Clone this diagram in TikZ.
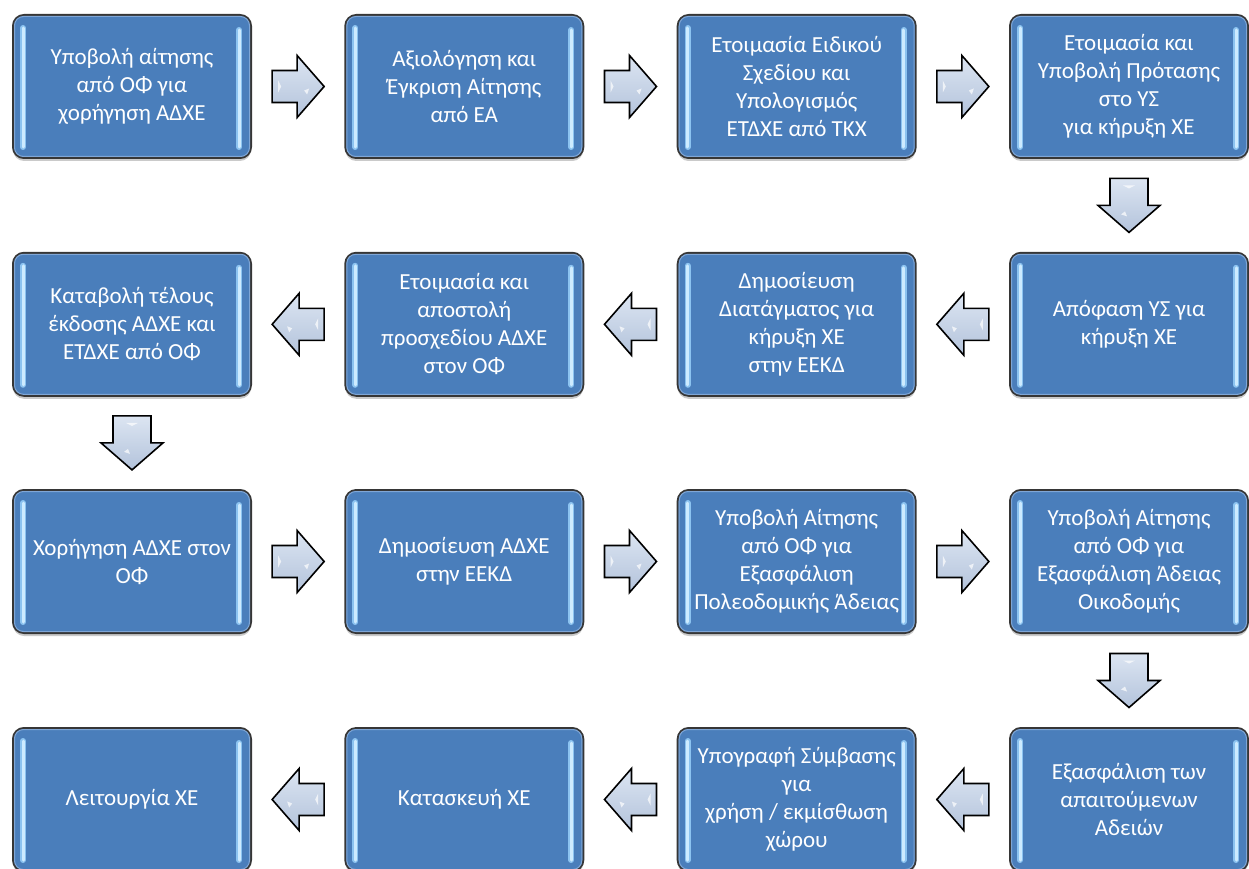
\documentclass[tikz,border=0pt]{standalone}
\usepackage{fontspec}
\setmainfont{Carlito}
\usetikzlibrary{calc,shadows}
\definecolor{boxblue}{HTML}{4A7EBB}
\definecolor{boxborder}{HTML}{363636}
\definecolor{boxinner}{HTML}{7FA6D6}
\definecolor{barcol}{HTML}{CDEBFF}
\definecolor{barglow}{HTML}{8CC3F0}
\definecolor{arrtop}{HTML}{DCE5F2}
\definecolor{arrbot}{HTML}{B3C3DB}
\tikzset{
  box/.style={rounded corners=11pt, minimum width=238pt, minimum height=143pt,
    fill=boxblue, draw=boxborder, line width=2pt, text=white, align=center,
    font=\fontsize{23}{28}\selectfont, inner sep=4pt,
    drop shadow={shadow xshift=0pt, shadow yshift=-3pt, opacity=0.35, fill=black!60}},
  inner/.style={draw=boxinner, line width=1pt, rounded corners=9pt},
  hglow/.style={draw=barglow, line width=6pt, line cap=round},
  hbar/.style={draw=barcol, line width=3pt, line cap=round},
  arw/.style={draw=black, line width=1.6pt, line join=miter, top color=arrtop, bottom color=arrbot},
  rarrow/.pic={\path[arw] (-26,-16) -- (-1,-16) -- (-1,-31) -- (26,0) -- (-1,31) -- (-1,16) -- (-26,16) -- cycle;
     \fill[white, opacity=0.7] (-20,-6) -- (-17,0) -- (-20,6) -- cycle;
     \fill[white, opacity=0.7] (6,4) -- (11,2) -- (9,8) -- cycle;},
  larrow/.pic={\path[arw] (26,-16) -- (1,-16) -- (1,-31) -- (-26,0) -- (1,31) -- (1,16) -- (26,16) -- cycle;
     \fill[white, opacity=0.7] (20,-6) -- (17,0) -- (20,6) -- cycle;
     \fill[white, opacity=0.7] (-6,4) -- (-11,2) -- (-9,8) -- cycle;},
  darrow/.pic={\path[arw] (-19,-27) -- (19,-27) -- (19,0) -- (31,0) -- (0,27) -- (-31,0) -- (-19,0) -- cycle;
     \fill[white, opacity=0.7] (-6,-20) -- (6,-20) -- (0,-17) -- cycle;
     \fill[white, opacity=0.7] (-4,6) -- (-2,11) -- (-8,9) -- cycle;}
}
\begin{document}
\begin{tikzpicture}[x=1pt,y=-1pt]
\useasboundingbox (0,0) rectangle (1249,869);
% row 1
\node[box] (a1) at (132,86.5) {Υποβολή αίτησης\\από ΟΦ για\\χορήγηση ΑΔΧΕ};
\node[box] (a2) at (464.3,86.5) {Αξιολόγηση και\\Έγκριση Αίτησης\\από ΕΑ};
\node[box] (a3) at (796.7,86.5) {Ετοιμασία Ειδικού\\Σχεδίου και\\Υπολογισμός\\ΕΤΔΧΕ από ΤΚΧ};
\node[box] (a4) at (1129,86.5) {Ετοιμασία και\\Υποβολή Πρότασης\\στο ΥΣ\\για κήρυξη ΧΕ};
% row 2
\node[box] (b4) at (1129,324.3) {Απόφαση ΥΣ για\\κήρυξη ΧΕ};
\node[box] (b3) at (796.7,324.3) {Δημοσίευση\\Διατάγματος για\\κήρυξη ΧΕ\\στην ΕΕΚΔ};
\node[box] (b2) at (464.3,324.3) {Ετοιμασία και\\αποστολή\\προσχεδίου ΑΔΧΕ\\στον ΟΦ};
\node[box] (b1) at (132,324.3) {Καταβολή τέλους\\έκδοσης ΑΔΧΕ και\\ΕΤΔΧΕ από ΟΦ};
% row 3
\node[box] (c1) at (132,561.5) {Χορήγηση ΑΔΧΕ στον\\ΟΦ};
\node[box] (c2) at (464.3,561.5) {Δημοσίευση ΑΔΧΕ\\στην ΕΕΚΔ};
\node[box] (c3) at (796.7,561.5) {Υποβολή Αίτησης\\από ΟΦ για\\Εξασφάλιση\\Πολεοδομικής Άδειας};
\node[box] (c4) at (1129,561.5) {Υποβολή Αίτησης\\από ΟΦ για\\Εξασφάλιση Άδειας\\Οικοδομής};
% row 4
\node[box] (d4) at (1129,799.5) {Εξασφάλιση των\\απαιτούμενων\\Αδειών};
\node[box] (d3) at (796.7,799.5) {Υπογραφή Σύμβασης\\για\\χρήση / εκμίσθωση\\χώρου};
\node[box] (d2) at (464.3,799.5) {Κατασκευή ΧΕ};
\node[box] (d1) at (132,799.5) {Λειτουργία ΧΕ};
% inner glow and highlight bars
\foreach \n in {a1,a2,a3,a4,b1,b2,b3,b4,c1,c2,c3,c4,d1,d2,d3,d4}{
  \draw[inner] ([shift={(2.5,2.5)}]\n.north west) rectangle ([shift={(-2.5,-2.5)}]\n.south east);
  \draw[hglow] ([shift={(11,14)}]\n.north west) -- ([shift={(11,-12)}]\n.south west);
  \draw[hglow] ([shift={(-13,16)}]\n.north east) -- ([shift={(-13,-12)}]\n.south east);
  \draw[hbar] ([shift={(11,14)}]\n.north west) -- ([shift={(11,-12)}]\n.south west);
  \draw[hbar] ([shift={(-13,16)}]\n.north east) -- ([shift={(-13,-12)}]\n.south east);
}
% arrows
\pic at ($(a1.east)!0.5!(a2.west)$) {rarrow};
\pic at ($(a2.east)!0.5!(a3.west)$) {rarrow};
\pic at ($(a3.east)!0.5!(a4.west)$) {rarrow};
\pic at ($(a4.south)!0.5!(b4.north)$) {darrow};
\pic at ($(b4.west)!0.5!(b3.east)$) {larrow};
\pic at ($(b3.west)!0.5!(b2.east)$) {larrow};
\pic at ($(b2.west)!0.5!(b1.east)$) {larrow};
\pic at ($(b1.south)!0.5!(c1.north)$) {darrow};
\pic at ($(c1.east)!0.5!(c2.west)$) {rarrow};
\pic at ($(c2.east)!0.5!(c3.west)$) {rarrow};
\pic at ($(c3.east)!0.5!(c4.west)$) {rarrow};
\pic at ($(c4.south)!0.5!(d4.north)$) {darrow};
\pic at ($(d4.west)!0.5!(d3.east)$) {larrow};
\pic at ($(d3.west)!0.5!(d2.east)$) {larrow};
\pic at ($(d2.west)!0.5!(d1.east)$) {larrow};
\end{tikzpicture}
\end{document}
